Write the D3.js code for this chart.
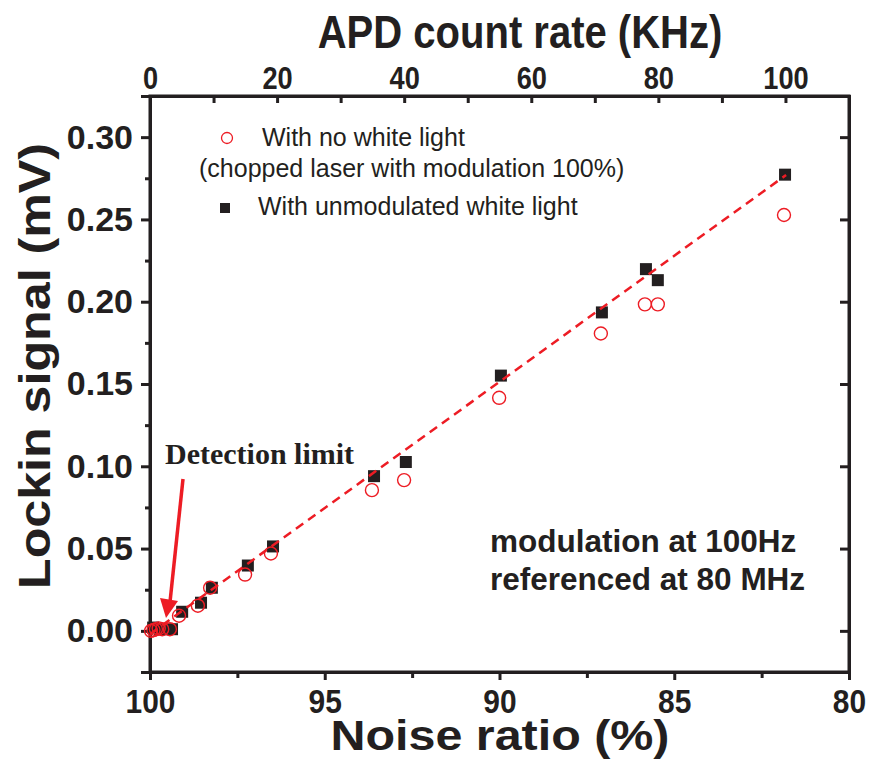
<!DOCTYPE html>
<html lang="en">

<head>
    <meta charset="utf-8">
    <title>lockin signal</title>
    <script src="https://cdn.jsdelivr.net/npm/d3@7"></script>
    <style>
        body {
            margin: 0;
            background: #fff;
        }

        text {
            font-family: "Liberation Sans", Arial, sans-serif;
            fill: #231f20;
        }

        .axis path,
        .axis line {
            stroke: #231f20;
            stroke-width: 3;
        }

        .tick-label text {
            font-weight: bold;
        }
    </style>
</head>

<body>
    <script type="text/javascript">
        // noise ratio (%) and lockin signal (mV)
        var noiseNoWhite = [99.97, 99.9, 99.83, 99.75, 99.65, 99.43, 99.17, 98.63, 98.28, 97.28, 96.54, 93.65, 92.73, 90.01, 87.1, 85.84, 85.47, 81.86];
        var lockinNoWhite = [0.000, 0.0005, 0.001, 0.0015, 0.001, 0.001, 0.0092, 0.0153, 0.0262, 0.0342, 0.047, 0.0855, 0.0916, 0.1416, 0.1807, 0.1984, 0.1984, 0.2527];

        var noiseWhite = [99.91, 99.71, 99.37, 99.08, 98.54, 98.23, 97.2, 96.48, 93.59, 92.68, 89.96, 87.07, 85.81, 85.47, 81.83];
        var lockinWhite = [0.002, 0.001, 0.001, 0.0116, 0.0171, 0.0262, 0.0397, 0.0513, 0.094, 0.1026, 0.1551, 0.1935, 0.2198, 0.2131, 0.2772];

        // linear fit (dashed)
        var fitNoise = [100, 81.8];
        var fitLockin = [-0.002, 0.277];

        var yTicks = [0, 0.05, 0.10, 0.15, 0.20, 0.25, 0.30];
        var yMinor = [-0.025, 0.025, 0.075, 0.125, 0.175, 0.225, 0.275, 0.325];
        var xTicks = [100, 95, 90, 85, 80];
        var xMinor = [97.5, 92.5, 87.5, 82.5];
        var topTicks = [0, 20, 40, 60, 80, 100];
        var topMinor = [10, 30, 50, 70, 90, 110];

        var svgWidth = 870, svgHeight = 760;
        var margin = { left: 150, right: 21, top: 96, bottom: 88 };
        var red = '#ed1c24', dark = '#231f20';

        var svg = d3.select('body')
            .append('svg')
            .attr('width', svgWidth)
            .attr('height', svgHeight);

        var x = d3.scaleLinear().domain([100, 80]).range([margin.left, svgWidth - margin.right]);
        var xTop = d3.scaleLinear().domain([0, 110]).range([margin.left, svgWidth - margin.right]);
        var y = d3.scaleLinear().domain([-0.025, 0.325]).range([svgHeight - margin.bottom, margin.top]);

        var plotBottom = svgHeight - margin.bottom, plotRight = svgWidth - margin.right;

        function drawAxes() {
            // left
            var gl = svg.append('g').attr('class', 'axis tick-label')
                .attr('transform', 'translate(' + margin.left + ',0)')
                .call(d3.axisLeft(y).tickValues(yTicks).tickFormat(d3.format('.2f')).tickSize(9).tickPadding(8));
            gl.selectAll('text').style('font-size', '34px');
            svg.append('g').attr('class', 'axis')
                .attr('transform', 'translate(' + margin.left + ',0)')
                .call(d3.axisLeft(y).tickValues(yMinor).tickFormat('').tickSize(5));

            // right, inward ticks
            svg.append('g').attr('class', 'axis')
                .attr('transform', 'translate(' + plotRight + ',0)')
                .call(d3.axisLeft(y).tickValues(yTicks).tickFormat('').tickSize(9));

            // bottom
            var gb = svg.append('g').attr('class', 'axis tick-label')
                .attr('transform', 'translate(0,' + plotBottom + ')')
                .call(d3.axisBottom(x).tickValues(xTicks).tickFormat(d3.format('d')).tickSize(8).tickPadding(9));
            gb.selectAll('text').style('font-size', '34px').attr('transform', 'scale(0.88,1)');
            svg.append('g').attr('class', 'axis')
                .attr('transform', 'translate(0,' + plotBottom + ')')
                .call(d3.axisBottom(x).tickValues(xMinor).tickFormat('').tickSize(6));

            // top, inward ticks
            var gt = svg.append('g').attr('class', 'axis tick-label')
                .attr('transform', 'translate(0,' + margin.top + ')')
                .call(d3.axisTop(xTop).tickValues(topTicks).tickFormat(d3.format('d')).tickSizeInner(-7).tickSizeOuter(0).tickPadding(7));
            gt.selectAll('text').style('font-size', '32px').attr('transform', 'scale(0.85,1)');
            svg.append('g').attr('class', 'axis')
                .attr('transform', 'translate(0,' + margin.top + ')')
                .call(d3.axisTop(xTop).tickValues(topMinor).tickFormat('').tickSizeInner(-7).tickSizeOuter(0));

            // frame
            svg.append('rect')
                .attr('x', margin.left).attr('y', margin.top)
                .attr('width', plotRight - margin.left)
                .attr('height', plotBottom - margin.top)
                .attr('fill', 'none').attr('stroke', dark).attr('stroke-width', 3);
        }

        function drawTitles() {
            svg.append('text')
                .attr('transform', 'translate(520,48) scale(0.87,1)')
                .attr('text-anchor', 'middle')
                .style('font-size', '46px').style('font-weight', 'bold')
                .text('APD count rate (KHz)');

            svg.append('text')
                .attr('x', 500).attr('y', 750)
                .attr('text-anchor', 'middle')
                .attr('textLength', 339).attr('lengthAdjust', 'spacingAndGlyphs')
                .style('font-size', '42px').style('font-weight', 'bold')
                .text('Noise ratio (%)');

            svg.append('text')
                .attr('transform', 'translate(50,366) rotate(-90)')
                .attr('text-anchor', 'middle')
                .attr('textLength', 446).attr('lengthAdjust', 'spacingAndGlyphs')
                .style('font-size', '45px').style('font-weight', 'bold')
                .text('Lockin signal (mV)');
        }

        function drawData() {
            svg.append('g').selectAll('rect')
                .data(noiseWhite)
                .enter().append('rect')
                .attr('x', (d) => x(d) - 6)
                .attr('y', (d, i) => y(lockinWhite[i]) - 6)
                .attr('width', 12)
                .attr('height', 12)
                .attr('fill', dark);

            var line = d3.line()
                .x((d) => x(d))
                .y((d, i) => y(fitLockin[i]));
            svg.append('path')
                .attr('d', line(fitNoise))
                .attr('fill', 'none')
                .attr('stroke', red)
                .attr('stroke-width', 2.5)
                .attr('stroke-dasharray', '9,6');

            svg.append('g').selectAll('circle')
                .data(noiseNoWhite)
                .enter().append('circle')
                .attr('cx', (d) => x(d))
                .attr('cy', (d, i) => y(lockinNoWhite[i]))
                .attr('r', 6.5)
                .attr('fill', 'none')
                .attr('stroke', red)
                .attr('stroke-width', 1.4);
        }

        function drawLegend() {
            svg.append('circle')
                .attr('cx', 227).attr('cy', 138).attr('r', 5.5)
                .attr('fill', 'none').attr('stroke', red).attr('stroke-width', 1.3);
            svg.append('text').attr('x', 262).attr('y', 146)
                .style('font-size', '25px').text('With no white light');
            svg.append('text').attr('x', 199).attr('y', 177)
                .style('font-size', '25px').text('(chopped laser with modulation 100%)');
            svg.append('rect')
                .attr('x', 220).attr('y', 203).attr('width', 10).attr('height', 10)
                .attr('fill', dark);
            svg.append('text').attr('x', 258).attr('y', 215)
                .style('font-size', '25px').text('With unmodulated white light');

            svg.append('text').attr('x', 490).attr('y', 552)
                .style('font-size', '31.5px').style('font-weight', 'bold')
                .text('modulation at 100Hz');
            svg.append('text').attr('x', 490).attr('y', 590)
                .style('font-size', '31.5px').style('font-weight', 'bold')
                .text('referenced at 80 MHz');
        }

        function drawAnnotation() {
            svg.append('text').attr('x', 165).attr('y', 464)
                .style('font-family', '"Liberation Serif", "Times New Roman", serif')
                .style('font-size', '30px').style('font-weight', 'bold')
                .text('Detection limit');

            svg.append('line')
                .attr('x1', 183).attr('y1', 479)
                .attr('x2', 170).attr('y2', 602)
                .attr('stroke', red).attr('stroke-width', 3.5);
            svg.append('path')
                .attr('d', 'M160,598 L178,601 L166,618 Z')
                .attr('fill', red);
        }

        drawAxes();
        drawTitles();
        drawData();
        drawLegend();
        drawAnnotation();
    </script>
</body>

</html>
